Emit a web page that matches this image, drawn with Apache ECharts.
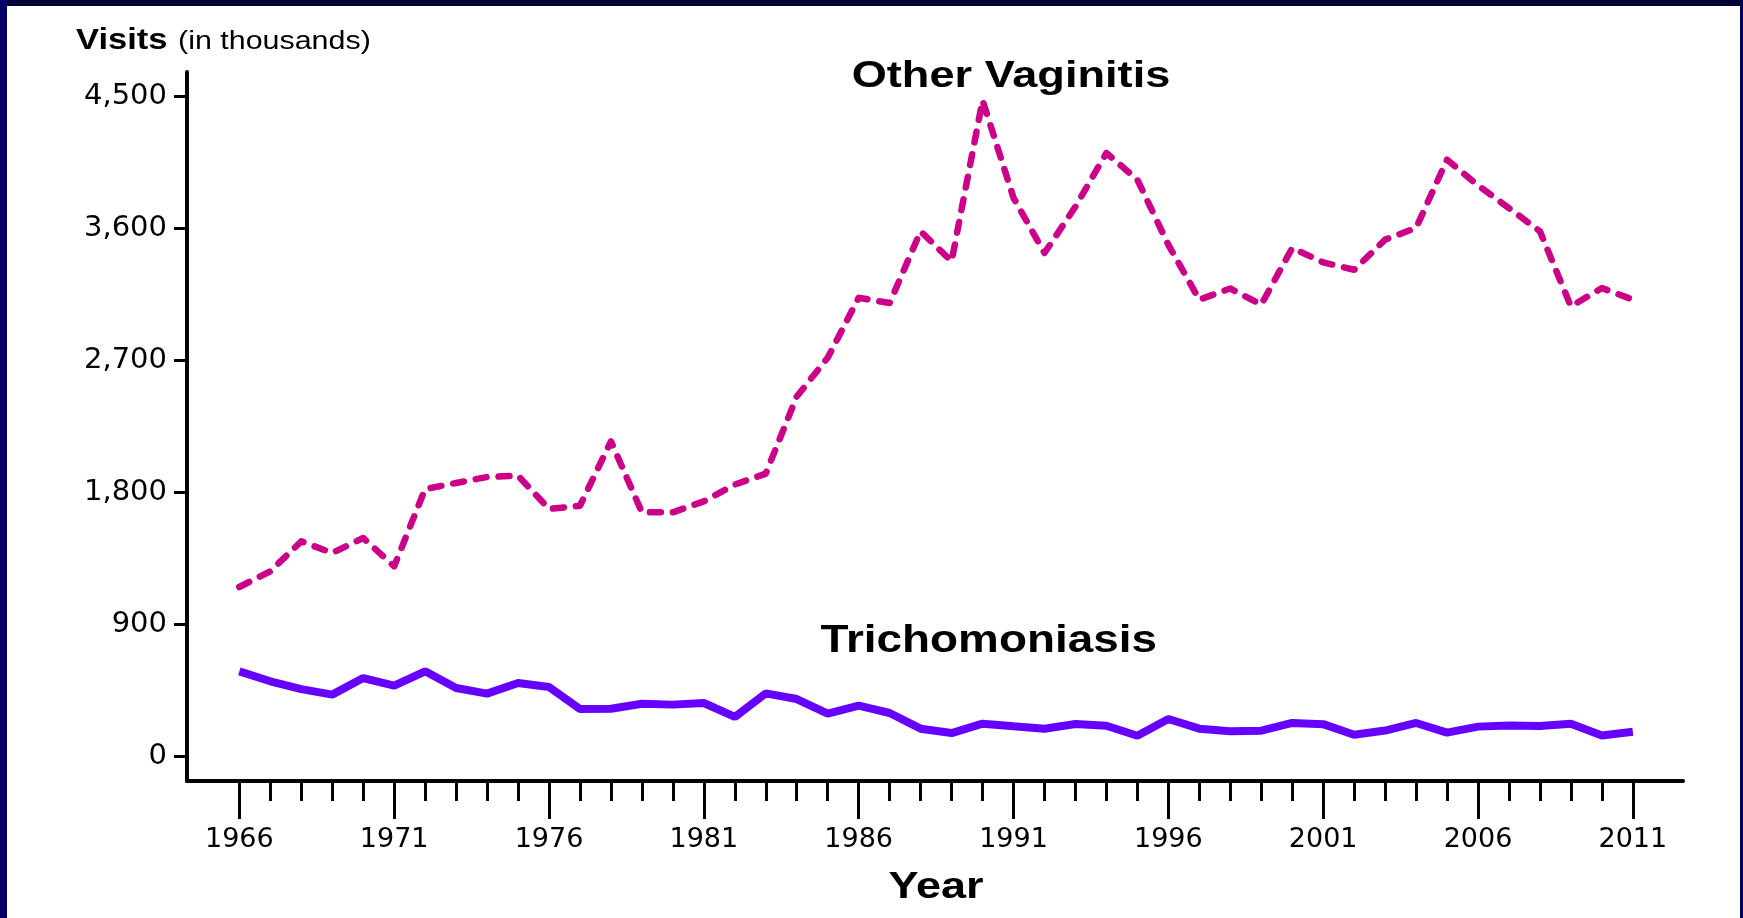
<!DOCTYPE html>
<html>
<head>
<meta charset="utf-8">
<script src="https://cdn.jsdelivr.net/npm/echarts@6/dist/echarts.min.js"></script>
<style>
  html, body { margin: 0; padding: 0; background: #000044; }
  #chart { width: 1743px; height: 918px; }
</style>
</head>
<body>
<div id="chart"></div>
<script>
// ---- data ----
const years = [1966, 1967, 1968, 1969, 1970, 1971, 1972, 1973, 1974, 1975,
               1976, 1977, 1978, 1979, 1980, 1981, 1982, 1983, 1984, 1985,
               1986, 1987, 1988, 1989, 1990, 1991, 1992, 1993, 1994, 1995,
               1996, 1997, 1998, 1999, 2000, 2001, 2002, 2003, 2004, 2005,
               2006, 2007, 2008, 2009, 2010, 2011];
const otherVaginitis = [1157, 1264, 1468, 1389, 1491, 1298, 1825, 1866, 1907, 1916,
                        1689, 1711, 2150, 1666, 1666, 1741, 1855, 1930, 2455, 2720,
                        3129, 3093, 3582, 3377, 4475, 3810, 3434, 3750, 4116, 3934,
                        3490, 3116, 3192, 3082, 3468, 3370, 3320, 3525, 3605, 4070,
                        3895, 3740, 3582, 3070, 3195, 3116];
const trichomoniasis = [582, 514, 461, 423, 536, 484, 582, 468, 430, 502,
                        475, 325, 327, 361, 355, 366, 271, 432, 393, 293,
                        348, 298, 191, 161, 225, 207, 191, 223, 211, 143,
                        257, 191, 173, 177, 230, 222, 150, 178, 230, 164,
                        205, 212, 210, 224, 144, 170];
const yTickValues = [0, 900, 1800, 2700, 3600, 4500];
const xMajorTicks = [1966, 1971, 1976, 1981, 1986, 1991, 1996, 2001, 2006, 2011];
const seriesNames = ['Other Vaginitis', 'Trichomoniasis'];
const yAxisTitle = 'Visits';
const yAxisUnit = '(in thousands)';
const xAxisTitle = 'Year';

// ---- chart ----
const chart = echarts.init(document.getElementById('chart'), null, { renderer: 'canvas' });
const LBL = 'DejaVu Sans';
const TTL = '"Liberation Sans", Arial, sans-serif';

const option = {
  animation: false,
  backgroundColor: '#ffffff',
  grid: { left: 187, right: 60, top: 72, bottom: 137, containLabel: false },
  xAxis: [
    {
      type: 'value', min: 1964.31, max: 2012.62,
      axisLine: { show: true, onZero: false, lineStyle: { color: '#000', width: 4 } },
      splitLine: { show: false },
      axisTick: { show: true, customValues: xMajorTicks, length: 38, lineStyle: { color: '#000', width: 3 } },
      axisLabel: { show: true, customValues: xMajorTicks, margin: 45, color: '#000',
                   fontFamily: LBL, fontSize: 27, formatter: v => String(v) }
    },
    {
      type: 'value', min: 1964.31, max: 2012.62, position: 'bottom',
      axisLine: { show: false, onZero: false },
      splitLine: { show: false },
      axisTick: { show: true, customValues: years, length: 20, lineStyle: { color: '#000', width: 3 } },
      axisLabel: { show: false }
    }
  ],
  yAxis: {
    type: 'value', min: -165.7, max: 4668,
    axisLine: { show: true, onZero: false, lineStyle: { color: '#000', width: 4 } },
    splitLine: { show: false },
    axisTick: { show: true, customValues: yTickValues, length: 13, lineStyle: { color: '#000', width: 3 } },
    axisLabel: { show: true, customValues: yTickValues, margin: 20, color: '#000',
                 fontFamily: LBL, fontSize: 29, padding: [9, 0, 0, 0],
                 formatter: v => Number(v).toLocaleString('en-US') }
  },
  series: [
    {
      name: seriesNames[0], type: 'line', xAxisIndex: 0,
      data: years.map((y, i) => [y, otherVaginitis[i]]),
      symbol: 'none',
      lineStyle: { color: '#CC0088', width: 6.5, type: [11, 12], cap: 'round', join: 'round' },
      z: 3
    },
    {
      name: seriesNames[1], type: 'line', xAxisIndex: 0,
      data: years.map((y, i) => [y, trichomoniasis[i]]),
      symbol: 'none',
      lineStyle: { color: '#6600FF', width: 8, type: 'solid' },
      z: 3
    }
  ],
  graphic: [
    { type: 'rect', shape: { x: 0, y: 0, width: 1743, height: 6 }, style: { fill: '#000038' }, z: 100 },
    { type: 'rect', shape: { x: 0, y: 0, width: 7, height: 918 }, style: { fill: '#000066' }, z: 100 },
    { type: 'rect', shape: { x: 1740, y: 0, width: 3, height: 918 }, style: { fill: '#000055' }, z: 100 },
    { type: 'text', x: 76, y: 40.5, scaleX: 1.15,
      style: { text: yAxisTitle, x: 0, y: 0, fill: '#000', font: 'bold 30px ' + TTL,
               textAlign: 'left', textVerticalAlign: 'middle' } },
    { type: 'text', x: 178, y: 42.3, scaleX: 1.17,
      style: { text: yAxisUnit, x: 0, y: 0, fill: '#000', font: '26px ' + TTL,
               textAlign: 'left', textVerticalAlign: 'middle' } },
    { type: 'text', x: 1011, y: 76.7, scaleX: 1.22,
      style: { text: seriesNames[0], x: 0, y: 0, fill: '#000', font: 'bold 37px ' + TTL,
               textAlign: 'center', textVerticalAlign: 'middle' } },
    { type: 'text', x: 988.7, y: 641.7, scaleX: 1.176,
      style: { text: seriesNames[1], x: 0, y: 0, fill: '#000', font: 'bold 39px ' + TTL,
               textAlign: 'center', textVerticalAlign: 'middle' } },
    { type: 'text', x: 936, y: 887.7, scaleX: 1.25,
      style: { text: xAxisTitle, x: 0, y: 0, fill: '#000', font: 'bold 36px ' + TTL,
               textAlign: 'center', textVerticalAlign: 'middle' } }
  ]
};
chart.setOption(option);
</script>
</body>
</html>
